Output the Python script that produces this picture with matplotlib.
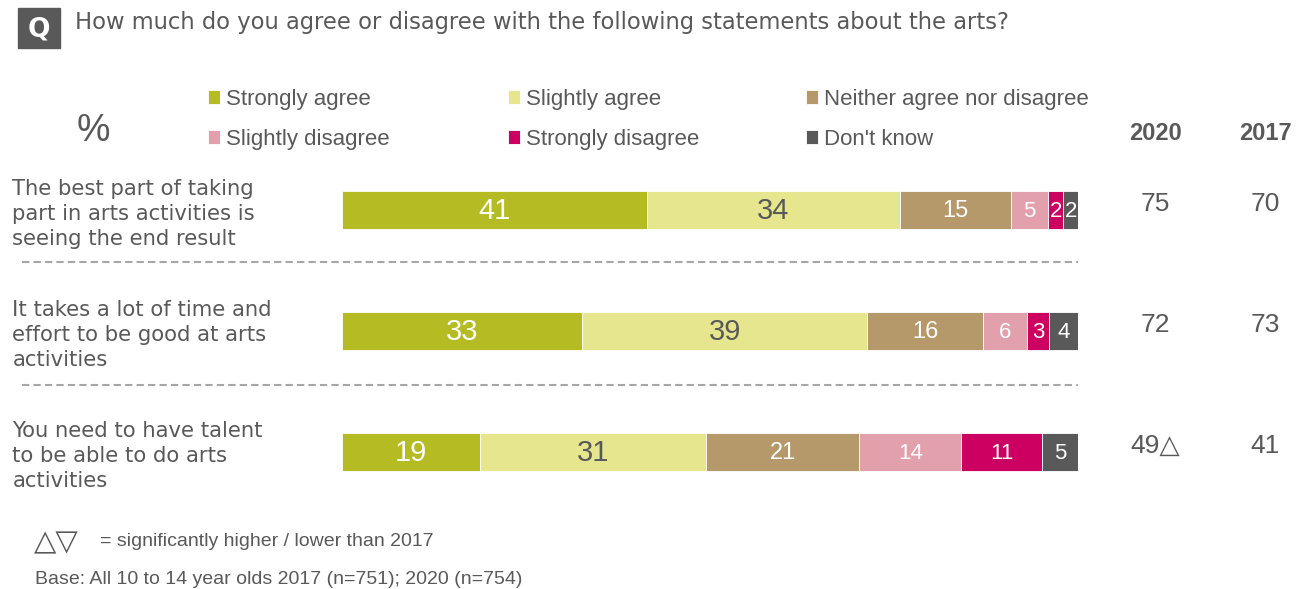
import matplotlib
matplotlib.use("Agg")
import matplotlib.pyplot as plt
from matplotlib.patches import Rectangle
import numpy as np

# data
statements = ["The best part of taking\npart in arts activities is\nseeing the end result",
              "It takes a lot of time and\neffort to be good at arts\nactivities",
              "You need to have talent\nto be able to do arts\nactivities"]
categories = ["Strongly agree", "Slightly agree", "Neither agree nor disagree",
              "Slightly disagree", "Strongly disagree", "Don't know"]
strongly_agree = [41, 33, 19]
slightly_agree = [34, 39, 31]
neither = [15, 16, 21]
slightly_disagree = [5, 6, 14]
strongly_disagree = [2, 3, 11]
dont_know = [2, 4, 5]
agree_2020 = ["75", "72", "49\u25b3"]
agree_2017 = ["70", "73", "41"]
years = ["2020", "2017"]

colors = ["#b5bb22", "#e6e68e", "#b5996a", "#e1a0ac", "#cc0060", "#595959"]
label_colors = ["white", "#595959", "white", "white", "white", "white"]
label_sizes = [21, 21, 17, 16, 16, 16]
grey = "#595959"
sans = ["Liberation Sans", "DejaVu Sans"]

series = np.array([strongly_agree, slightly_agree, neither,
                   slightly_disagree, strongly_disagree, dont_know], dtype=float)
shares = series / series.sum(axis=0) * 100

fig = plt.figure(figsize=(13.06, 5.89), dpi=100)
W, H = 1306, 589

ax = fig.add_axes([342 / W, 1 - 512.5 / H, 736 / W, 363 / H])
ax.set_xlim(0, 100)
ax.set_ylim(2.5, -0.5)
ax.axis("off")

y = np.arange(len(statements))
left = np.zeros(len(statements))
handles = []
for i in range(len(categories)):
    b = ax.barh(y, shares[i], left=left, height=0.315, color=colors[i],
                label=categories[i], edgecolor="white", linewidth=0.6)
    handles.append(b)
    for j in range(len(statements)):
        ax.text(left[j] + shares[i][j] / 2, y[j] + 0.01, "%d" % series[i][j],
                ha="center", va="center", color=label_colors[i],
                fontsize=label_sizes[i], family=sans)
    left += shares[i]

# statement labels
for j, s in enumerate(statements):
    ax.text(-44.8, y[j] + 0.03, s, ha="left", va="center", color=grey,
            fontsize=15.2, family="DejaVu Sans", linespacing=1.32)

# separators
for sy in [0.43, 1.446]:
    ax.plot([-43.5, 100], [sy, sy], color="#a6a6a6", lw=1.5,
            linestyle=(0, (3.5, 2)), clip_on=False)

# 2020 / 2017 columns
for xc, yr, vals in [(110.5, years[0], agree_2020), (125.4, years[1], agree_2017)]:
    ax.text(xc, -0.636, yr, ha="center", va="center", color=grey,
            fontsize=17, fontweight="bold", family=sans)
    for j, v in enumerate(vals):
        ax.text(xc, y[j] - 0.05, v, ha="center", va="center", color=grey,
                fontsize=19, family=sans)

# legend: one legend per column
columns = [(208, [0, 3]), (508, [1, 4]), (806, [2, 5])]
for xpix, idx in columns:
    leg = fig.legend([handles[k] for k in idx], [categories[k] for k in idx],
                     loc="upper left", bbox_to_anchor=(xpix / W, 1 - 89 / H),
                     ncol=1, frameon=False, handlelength=0.55,
                     handleheight=0.55, handletextpad=0.25,
                     labelspacing=0.85, borderpad=0, borderaxespad=0,
                     prop={"family": sans, "size": 16})
    for t in leg.get_texts():
        t.set_color(grey)

# header
fig.patches.append(Rectangle((18 / W, 1 - 48 / H), 42 / W, 40 / H,
                             transform=fig.transFigure, color=grey))
fig.text(39 / W, 1 - 30 / H, "Q", ha="center", va="center", color="white",
         fontsize=19, fontweight="bold", family="DejaVu Sans")
fig.text(75 / W, 1 - 22 / H,
         "How much do you agree or disagree with the following statements about the arts?",
         ha="left", va="center", color=grey, fontsize=16.3, family="DejaVu Sans")
fig.text(93 / W, 1 - 131 / H, "%", ha="center", va="center", color=grey,
         fontsize=27, family=sans)

# footer
fig.text(34 / W, 1 - 542 / H, "\u25b3\u25bd", ha="left", va="center", color=grey,
         fontsize=21, family="DejaVu Sans")
fig.text(100 / W, 1 - 542 / H, "= significantly higher / lower than 2017",
         ha="left", va="center", color=grey, fontsize=14, family=sans)
fig.text(35 / W, 1 - 580 / H, "Base: All 10 to 14 year olds 2017 (n=751); 2020 (n=754)",
         ha="left", va="center", color=grey, fontsize=14, family=sans)

fig.savefig("out.png", dpi=100)
